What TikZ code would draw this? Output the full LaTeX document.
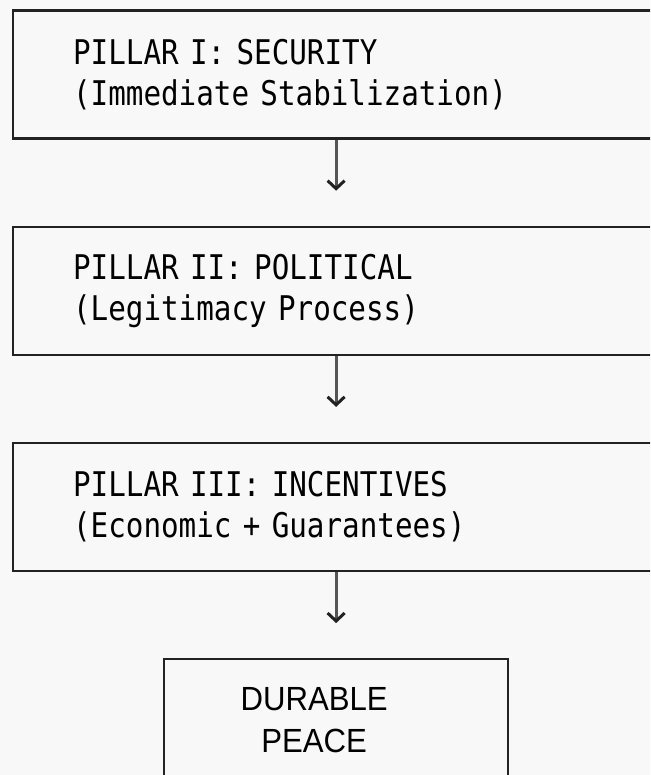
\documentclass[tikz,border=0pt]{standalone}
\usepackage{fontspec}
\newfontfamily\pillarfont[FakeStretch=0.86]{DejaVu Sans Mono}
\newfontfamily\peacefont[FakeStretch=0.93]{Liberation Sans}
\usetikzlibrary{arrows.meta,positioning}
\definecolor{paper}{HTML}{F8F8F8}
\definecolor{boxline}{HTML}{222222}
\definecolor{stemgray}{HTML}{555555}

\begin{document}
\begin{tikzpicture}[%
    x=1pt, y=-1pt,          % work in pixels of the page, y going down
    node distance=86pt,     % gap between the boxes
    ]

\tikzset{
  base/.style={draw=boxline, line width=2.2pt, rectangle, inner sep=0pt, minimum height=128pt},
  pillar/.style={base, minimum width=646pt, text width=526pt, align=left,
    font=\pillarfont\fontsize{34}{41}\selectfont},
  goal/.style={base, minimum width=344pt},
  goaltext/.style={align=center, inner sep=0pt, font=\peacefont\fontsize{33.5}{42}\selectfont},
  % connector between the pillars
  flow/.style={draw=stemgray, line width=3pt, shorten >=35pt,
    -{Straight Barb[length=8pt, width=17pt, line width=3pt, color=boxline]}}
}

  % page and its margins
  \fill[paper] (0,0) rectangle (650,775);
  \useasboundingbox (0,0) rectangle (650,775);
  \clip (0,0) rectangle (650,775);

  \node[pillar, anchor=north west] (pill1) at (12,9.5)
    {PILLAR I: SECURITY\\(Immediate Stabilization)};
  \node[pillar, below=of pill1] (pill2)
    {PILLAR II: POLITICAL\\(Legitimacy Process)};
  \node[pillar, below=of pill2] (pill3)
    {PILLAR III: INCENTIVES\\(Economic + Guarantees)};
  \node[goal, below=of pill3] (peace) {};
  \node[goaltext] (peacetext) at ([xshift=-22pt, yshift=3pt]peace.center)
    {DURABLE\\PEACE};

  \draw[flow] (pill1) -- (pill2);
  \draw[flow] (pill2) -- (pill3);
  \draw[flow] (pill3) -- (peace);
\end{tikzpicture}
\end{document}
